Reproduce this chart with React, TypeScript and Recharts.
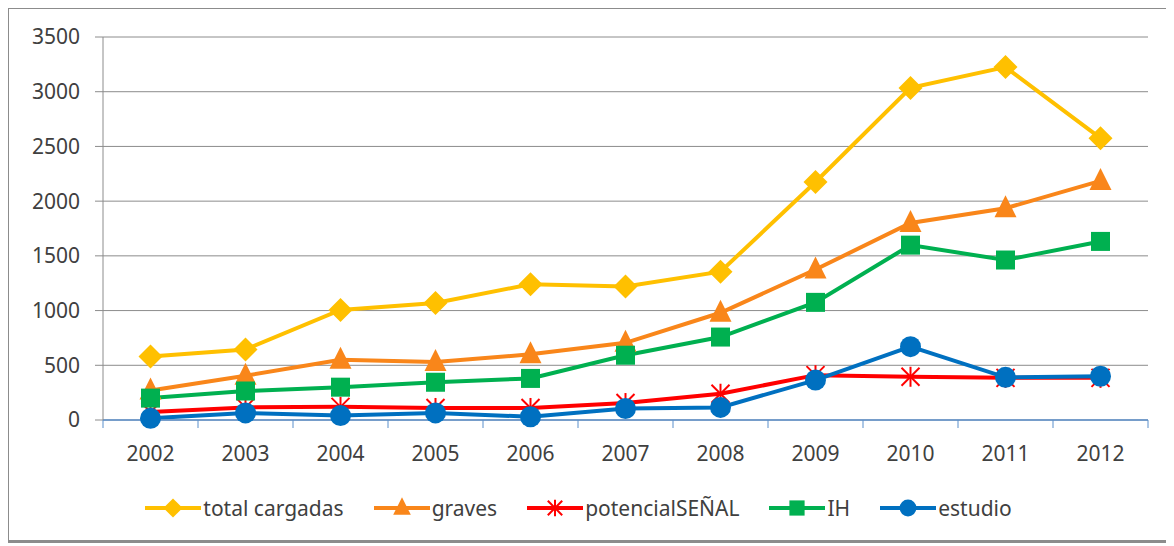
import React from 'react'
import { LineChart, Line, XAxis, YAxis, CartesianGrid, Legend } from 'recharts'

const years = ['2002', '2003', '2004', '2005', '2006', '2007', '2008', '2009', '2010', '2011', '2012']
const totalCargadas = [580, 645, 1005, 1070, 1240, 1220, 1355, 2175, 3035, 3225, 2575]
const graves = [270, 405, 550, 530, 600, 705, 980, 1375, 1800, 1935, 2185]
const potencialSenal = [73, 115, 120, 110, 110, 155, 240, 410, 395, 385, 385]
const ih = [200, 265, 300, 345, 380, 592, 758, 1075, 1598, 1462, 1632]
const estudio = [15, 65, 40, 65, 30, 105, 115, 365, 670, 390, 400]
const yTicks = [0, 500, 1000, 1500, 2000, 2500, 3000, 3500]

const data = years.map((year, i) => ({
  year,
  total: totalCargadas[i],
  graves: graves[i],
  potencial: potencialSenal[i],
  ih: ih[i],
  estudio: estudio[i],
}))

const CHART_W = 1159
const CHART_H = 531
const MARGIN = { top: 28, right: 20, left: 0, bottom: 0 }
const Y_AXIS_W = 94
// half of one category band, so ticks sit between years like the original
const BAND_HALF = (CHART_W - MARGIN.right - Y_AXIS_W) / years.length / 2

const FONT = '"Noto Sans", sans-serif'
const TEXT = '#404040'
const AXIS_BLUE = '#5B8FCB'
const GRID = '#8c8c8c'

type Shape = 'diamond' | 'triangle' | 'star' | 'square' | 'circle'

function marker(shape: Shape, cx: number, cy: number, color: string, s = 1) {
  switch (shape) {
    case 'diamond': {
      const r = 12 * s
      return <path d={`M${cx},${cy - r}L${cx + r},${cy}L${cx},${cy + r}L${cx - r},${cy}Z`} fill={color} />
    }
    case 'triangle': {
      const r = 11 * s
      return <path d={`M${cx},${cy - r - 2}L${cx + r},${cy + r - 2}L${cx - r},${cy + r - 2}Z`} fill={color} />
    }
    case 'star': {
      const r = 9 * s
      return (
        <g stroke={color} strokeWidth={2}>
          <line x1={cx} y1={cy - r - 1} x2={cx} y2={cy + r + 1} />
          <line x1={cx - r} y1={cy - r} x2={cx + r} y2={cy + r} />
          <line x1={cx - r} y1={cy + r} x2={cx + r} y2={cy - r} />
        </g>
      )
    }
    case 'square': {
      const r = 9.5 * s
      return <rect x={cx - r} y={cy - r} width={2 * r} height={2 * r} fill={color} />
    }
    default:
      return <circle cx={cx} cy={cy} r={10.5 * s} fill={color} />
  }
}

const series: { key: string; name: string; color: string; shape: Shape }[] = [
  { key: 'total', name: 'total cargadas', color: '#FFC000', shape: 'diamond' },
  { key: 'graves', name: 'graves', color: '#F9861A', shape: 'triangle' },
  { key: 'potencial', name: 'potencialSEÑAL', color: '#FF0000', shape: 'star' },
  { key: 'ih', name: 'IH', color: '#00B050', shape: 'square' },
  { key: 'estudio', name: 'estudio', color: '#0070C0', shape: 'circle' },
]

const makeDot = (shape: Shape, color: string) => (props: any) => {
  const { cx, cy, index } = props
  if (cx == null || cy == null) return <g key={index} />
  return <g key={index}>{marker(shape, cx, cy, color)}</g>
}

const XTick = (props: any) => {
  const { x, y, payload, index } = props
  const last = index === years.length - 1
  return (
    <g>
      <line x1={x - BAND_HALF} y1={y - 8} x2={x - BAND_HALF} y2={y} stroke={AXIS_BLUE} strokeWidth={1} />
      {last && <line x1={x + BAND_HALF} y1={y - 8} x2={x + BAND_HALF} y2={y} stroke={AXIS_BLUE} strokeWidth={1} />}
      <text x={x} y={y + 18} dy="0.71em" textAnchor="middle" fill={TEXT} fontSize={21} fontFamily={FONT}>
        {payload.value}
      </text>
    </g>
  )
}

const renderLegend = () => (
  <div style={{ height: 60, display: 'flex', justifyContent: 'center', alignItems: 'center', gap: 30, paddingBottom: 4, boxSizing: 'border-box' }}>
    {series.map((s) => (
      <div key={s.key} style={{ display: 'flex', alignItems: 'center' }}>
        <svg width={56} height={24}>
          <line x1={0} y1={12} x2={56} y2={12} stroke={s.color} strokeWidth={4} />
          {marker(s.shape, 28, 12, s.color, 0.8)}
        </svg>
        <span style={{ fontFamily: FONT, fontSize: 21, color: TEXT, marginLeft: 2 }}>{s.name}</span>
      </div>
    ))}
  </div>
)

export default function App() {
  return (
    <div
      style={{
        width: 1165,
        height: 537,
        marginLeft: -2,
        marginTop: -2,
        border: '3px solid #8c8c8c',
        boxSizing: 'border-box',
        background: '#fff',
      }}
    >
      <LineChart width={CHART_W} height={CHART_H} data={data} margin={MARGIN}>
        <CartesianGrid vertical={false} stroke={GRID} strokeWidth={1} />
        <XAxis
          dataKey="year"
          height={60}
          padding={{ left: BAND_HALF, right: BAND_HALF }}
          axisLine={{ stroke: AXIS_BLUE, strokeWidth: 1.5 }}
          tickLine={false}
          tick={<XTick />}
          interval={0}
        />
        <YAxis
          width={Y_AXIS_W}
          domain={[0, 3500]}
          ticks={yTicks}
          axisLine={{ stroke: GRID }}
          tickLine={{ stroke: GRID }}
          tickSize={8}
          tickMargin={15}
          tick={{ fill: TEXT, fontSize: 21, fontFamily: FONT }}
        />
        <Legend verticalAlign="bottom" content={renderLegend} />
        {series.map((s) => (
          <Line
            key={s.key}
            dataKey={s.key}
            name={s.name}
            stroke={s.color}
            strokeWidth={4}
            dot={makeDot(s.shape, s.color)}
            activeDot={false}
            isAnimationActive={false}
          />
        ))}
      </LineChart>
    </div>
  )
}
